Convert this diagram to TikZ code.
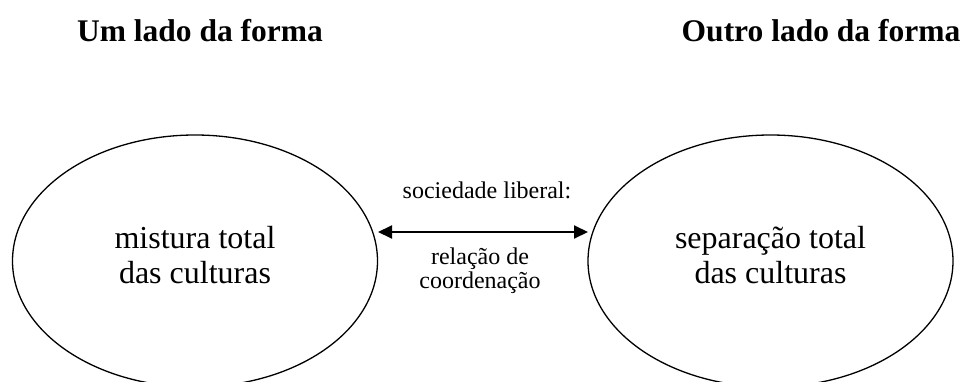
\documentclass[tikz,border=0pt]{standalone}
\usepackage{fontspec}
\setmainfont{Liberation Serif}
\usetikzlibrary{shapes.geometric,arrows.meta}
\begin{document}
\begin{tikzpicture}[x=1pt,y=-1pt,
  title/.style={font=\fontsize{31.5}{36}\selectfont\bfseries, anchor=base, inner sep=0pt},
  side/.style={draw, ellipse, line width=1.3pt, minimum width=365pt, minimum height=252pt, inner sep=0pt},
  body/.style={align=center, font=\fontsize{32}{35}\selectfont, inner sep=0pt},
  small/.style={font=\fontsize{24}{24}\selectfont, anchor=base, inner sep=0pt},
  link/.style={line width=2pt, {Triangle[length=14pt,width=13pt]}-{Triangle[length=14pt,width=13pt]}}]
\useasboundingbox (0,0) rectangle (963,382);
\clip (0,0) rectangle (963,382);
\node[title] (t1) at (200,42) {Um lado da forma};
\node[title] (t2) at (821,42) {Outro lado da forma};
\node[side] (L) at (195,261) {};
\node[side] (R) at (770.5,261) {};
\node[body] (Lt) at (195,255) {mistura total\\das culturas};
\node[body] (Rt) at (770.5,255) {separação total\\das culturas};
\coordinate (a1) at (378,232);
\coordinate (a2) at (588,232);
\draw[link] (a1) -- (a2);
\node[small] (s1) at (487,198) {sociedade liberal:};
\node[small] (s2) at (480,264) {relação de};
\node[small] (s3) at (480,288) {coordenação};
\end{tikzpicture}
\end{document}
